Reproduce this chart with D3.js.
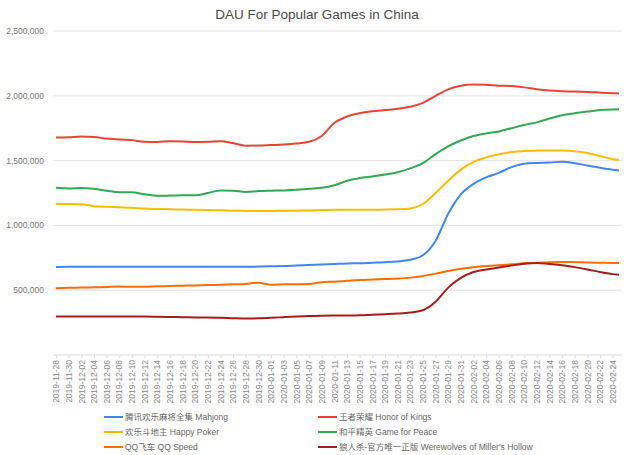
<!DOCTYPE html>
<html>
<head>
  <meta charset="UTF-8">
  <title>DAU For Popular Games in China</title>
  <script src="https://cdn.jsdelivr.net/npm/d3@7"></script>
  <style>
    body { margin: 0; background: #fff; }
    svg { font-family: Arial, "Liberation Sans", "Noto Sans CJK SC", sans-serif; }
  </style>
</head>
<body>
<div id="chart"></div>
<script>

  // dates sampled every 2 days + last day
  var dates = [
    "2019-11-28","2019-11-30","2019-12-02","2019-12-04","2019-12-06","2019-12-08",
    "2019-12-10","2019-12-12","2019-12-14","2019-12-16","2019-12-18","2019-12-20",
    "2019-12-22","2019-12-24","2019-12-26","2019-12-28","2019-12-30","2020-01-01",
    "2020-01-03","2020-01-05","2020-01-07","2020-01-09","2020-01-11","2020-01-13",
    "2020-01-15","2020-01-17","2020-01-19","2020-01-21","2020-01-23","2020-01-25",
    "2020-01-27","2020-01-29","2020-01-31","2020-02-02","2020-02-04","2020-02-06",
    "2020-02-08","2020-02-10","2020-02-12","2020-02-14","2020-02-16","2020-02-18",
    "2020-02-20","2020-02-22","2020-02-24","2020-02-25"
  ];

  var mahjong = [
    679000,680000,680000,680000,680000,680000,680000,680000,680000,680000,680000,680000,
    680000,680000,680000,680000,682000,684000,686000,690000,694000,698000,702000,706000,
    708000,712000,716000,722000,735000,770000,880000,1090000,1240000,1320000,1370000,1405000,
    1450000,1475000,1482000,1485000,1492000,1480000,1462000,1445000,1430000,1424000
  ];
  var honorOfKings = [
    1678000,1680000,1685000,1682000,1670000,1662000,1658000,1645000,1643000,1650000,1648000,1643000,
    1645000,1650000,1635000,1615000,1616000,1620000,1624000,1632000,1645000,1690000,1790000,1840000,
    1865000,1880000,1890000,1900000,1915000,1945000,2000000,2050000,2078000,2088000,2085000,2078000,
    2075000,2065000,2050000,2040000,2035000,2033000,2030000,2025000,2020000,2018000
  ];
  var happyPoker = [
    1166000,1165000,1163000,1148000,1143000,1140000,1136000,1130000,1127000,1125000,1122000,1120000,
    1118000,1116000,1114000,1112000,1112000,1112000,1113000,1114000,1115000,1118000,1120000,1120000,
    1120000,1121000,1122000,1124000,1130000,1165000,1250000,1345000,1430000,1490000,1525000,1548000,
    1567000,1575000,1577000,1578000,1577000,1572000,1558000,1535000,1512000,1505000
  ];
  var gameForPeace = [
    1290000,1285000,1288000,1282000,1268000,1255000,1255000,1240000,1228000,1230000,1233000,1232000,
    1250000,1270000,1268000,1258000,1265000,1268000,1270000,1275000,1283000,1290000,1310000,1345000,
    1365000,1378000,1392000,1410000,1440000,1480000,1550000,1610000,1655000,1690000,1710000,1725000,
    1750000,1775000,1795000,1825000,1850000,1865000,1878000,1890000,1895000,1896000
  ];
  var qqSpeed = [
    516000,518000,520000,522000,525000,528000,526000,526000,530000,532000,535000,537000,
    540000,542000,545000,548000,558000,543000,545000,546000,548000,562000,566000,572000,
    578000,582000,586000,590000,597000,610000,628000,648000,665000,678000,686000,693000,
    700000,707000,712000,716000,718000,716000,714000,712000,710000,710000
  ];
  var werewolves = [
    297000,297000,297000,297000,297000,297000,297000,297000,295000,293000,292000,290000,
    290000,288000,284000,281000,283000,287000,292000,297000,301000,303000,304000,305000,
    307000,311000,315000,320000,328000,345000,410000,520000,595000,640000,660000,675000,
    690000,705000,710000,702000,693000,678000,660000,640000,624000,619000
  ];

  var seriesNames = [
    "腾讯欢乐麻将全集 Mahjong",
    "王者荣耀 Honor of Kings",
    "欢乐斗地主 Happy Poker",
    "和平精英 Game for Peace",
    "QQ飞车 QQ Speed",
    "狼人杀-官方唯一正版 Werewolves of Miller's Hollow"
  ];
  var seriesValues = [mahjong, honorOfKings, happyPoker, gameForPeace, qqSpeed, werewolves];
  var colors = ["#4285f4", "#ea4335", "#fbbc04", "#34a853", "#ff6d01", "#a61c1c"];
  var yTicks = [0, 500000, 1000000, 1500000, 2000000, 2500000];

  var w = 630, h = 455;
  var parse = d3.timeParse("%Y-%m-%d");
  var fmt = d3.timeFormat("%Y-%m-%d");
  var dateObjs = dates.map(parse);
  var tickDates = dateObjs.slice(0, dateObjs.length - 1);

  var svg = d3.select('#chart').append('svg')
      .attr('width', w)
      .attr('height', h);

  var x = d3.scaleTime()
      .domain([dateObjs[0], dateObjs[dateObjs.length - 1]])
      .range([56, 619]);

  var y = d3.scaleLinear()
      .domain([0, 2500000])
      .range([355, 31]);

  svg.append('text')
      .attr('x', 317)
      .attr('y', 19)
      .attr('text-anchor', 'middle')
      .style('font-size', '13.5px')
      .style('fill', '#4a4a4a')
      .text('DAU For Popular Games in China');

  // gridlines + y labels
  var yAxis = svg.append('g');
  yAxis.selectAll('line.grid')
      .data(yTicks.filter(function(d){ return d > 0; }))
      .enter().append('line')
      .attr('x1', 53).attr('x2', 622)
      .attr('y1', function(d){ return y(d); })
      .attr('y2', function(d){ return y(d); })
      .style('stroke', '#e4e4e4')
      .style('stroke-width', 1);
  yAxis.selectAll('text')
      .data(yTicks.filter(function(d){ return d > 0; }))
      .enter().append('text')
      .attr('x', 44)
      .attr('y', function(d){ return y(d) + 3; })
      .attr('text-anchor', 'end')
      .style('font-size', '8.5px')
      .style('fill', '#777')
      .text(d3.format(","));

  // x axis
  var xAxis = d3.axisBottom(x)
      .tickValues(tickDates)
      .tickFormat(fmt)
      .tickSize(3)
      .tickSizeOuter(0);
  var gx = svg.append('g')
      .attr('transform', 'translate(0,' + y(0) + ')')
      .call(xAxis);
  gx.select('.domain')
      .attr('d', 'M53,0H622')
      .style('stroke', '#dcdcdc');
  gx.selectAll('.tick line').style('stroke', '#dcdcdc');
  gx.selectAll('.tick text')
      .attr('transform', 'rotate(-90)')
      .attr('x', -5)
      .attr('y', 0)
      .attr('dy', '0.32em')
      .attr('text-anchor', 'end')
      .style('font-family', 'Arial, "Liberation Sans", sans-serif')
      .style('font-size', '8.5px')
      .style('fill', '#888');

  // lines
  var line = d3.line()
      .x(function(d, i){ return x(dateObjs[i]); })
      .y(function(d){ return y(d); })
      .curve(d3.curveMonotoneX);

  svg.selectAll('path.series')
      .data(seriesValues)
      .enter().append('path')
      .classed('series', true)
      .attr('d', line)
      .style('fill', 'none')
      .style('stroke', function(d, i){ return colors[i]; })
      .style('stroke-width', 2);

  // legend
  var legend = svg.selectAll('g.legend')
      .data(seriesNames)
      .enter().append('g')
      .classed('legend', true)
      .attr('transform', function(d, i){
        var col = i % 2, row = Math.floor(i / 2);
        return 'translate(' + (col ? 318 : 104) + ',' + (417 + row * 15) + ')';
      });
  legend.append('line')
      .attr('x1', 0).attr('x2', 19)
      .style('stroke', function(d, i){ return colors[i]; })
      .style('stroke-width', 2);
  legend.append('text')
      .attr('x', 21)
      .attr('y', 3)
      .style('font-size', '8.5px')
      .style('fill', '#666')
      .text(function(d){ return d; });

</script>
</body>
</html>
